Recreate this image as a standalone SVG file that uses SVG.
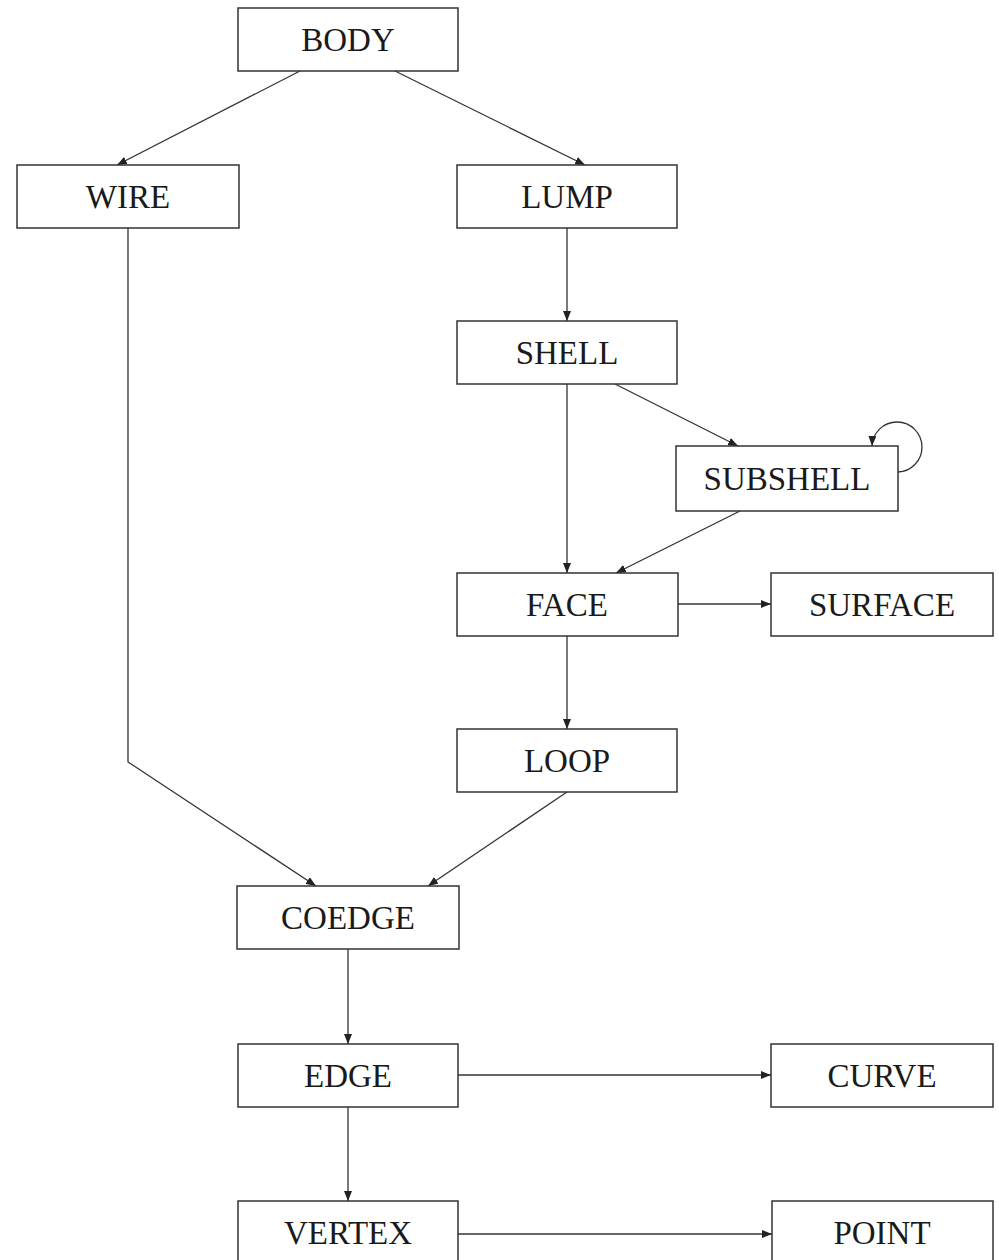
<svg xmlns="http://www.w3.org/2000/svg" width="999" height="1260" viewBox="0 0 999 1260">
<style>
.box rect{fill:#fff;stroke:#333;stroke-width:1.5}
.box text{font-family:"Liberation Serif","DejaVu Serif",serif;font-size:33px;fill:#1a1a1a;text-anchor:middle}
.edges path{fill:none;stroke:#333;stroke-width:1.3}
</style>
<defs>
<marker id="ah" viewBox="0 0 10 8" refX="10" refY="4" markerWidth="10" markerHeight="8" markerUnits="userSpaceOnUse" orient="auto">
<path d="M0,0 L10,4 L0,8 Z" fill="#222"/>
</marker>
</defs>
<rect width="999" height="1260" fill="#fff"/>
<g class="edges">
<path d="M300,71 L117,165" marker-end="url(#ah)"/>
<path d="M395,71 L585,165" marker-end="url(#ah)"/>
<path d="M567,228 L567,321" marker-end="url(#ah)"/>
<path d="M567,384 L567,573" marker-end="url(#ah)"/>
<path d="M615,384 L738,446" marker-end="url(#ah)"/>
<path d="M898,472 A25,25 0 1 0 872,446" marker-end="url(#ah)"/>
<path d="M740,511 L616,573" marker-end="url(#ah)"/>
<path d="M678,604 L771,604" marker-end="url(#ah)"/>
<path d="M567,636 L567,729" marker-end="url(#ah)"/>
<path d="M128,228 L128,762 L316,886" marker-end="url(#ah)"/>
<path d="M567,792 L428,886" marker-end="url(#ah)"/>
<path d="M348,949 L348,1044" marker-end="url(#ah)"/>
<path d="M458,1075 L771,1075" marker-end="url(#ah)"/>
<path d="M348,1107 L348,1201" marker-end="url(#ah)"/>
<path d="M458,1234 L772,1234" marker-end="url(#ah)"/>
</g>
<g id="body" class="box"><rect x="238" y="8" width="220" height="63"/><text x="348" y="51">BODY</text></g>
<g id="wire" class="box"><rect x="17" y="165" width="222" height="63"/><text x="128" y="208">WIRE</text></g>
<g id="lump" class="box"><rect x="457" y="165" width="220" height="63"/><text x="567" y="208">LUMP</text></g>
<g id="shell" class="box"><rect x="457" y="321" width="220" height="63"/><text x="567" y="364">SHELL</text></g>
<g id="subshell" class="box"><rect x="676" y="446" width="222" height="65"/><text x="787" y="490">SUBSHELL</text></g>
<g id="face" class="box"><rect x="457" y="573" width="221" height="63"/><text x="567" y="616">FACE</text></g>
<g id="surface" class="box"><rect x="771" y="573" width="222" height="63"/><text x="882" y="616">SURFACE</text></g>
<g id="loop" class="box"><rect x="457" y="729" width="220" height="63"/><text x="567" y="772">LOOP</text></g>
<g id="coedge" class="box"><rect x="237" y="886" width="222" height="63"/><text x="348" y="929">COEDGE</text></g>
<g id="edge" class="box"><rect x="238" y="1044" width="220" height="63"/><text x="348" y="1087">EDGE</text></g>
<g id="curve" class="box"><rect x="771" y="1044" width="222" height="63"/><text x="882" y="1087">CURVE</text></g>
<g id="vertex" class="box"><rect x="238" y="1201" width="220" height="63"/><text x="348" y="1244">VERTEX</text></g>
<g id="point" class="box"><rect x="772" y="1201" width="221" height="63"/><text x="882" y="1244">POINT</text></g>
</svg>
